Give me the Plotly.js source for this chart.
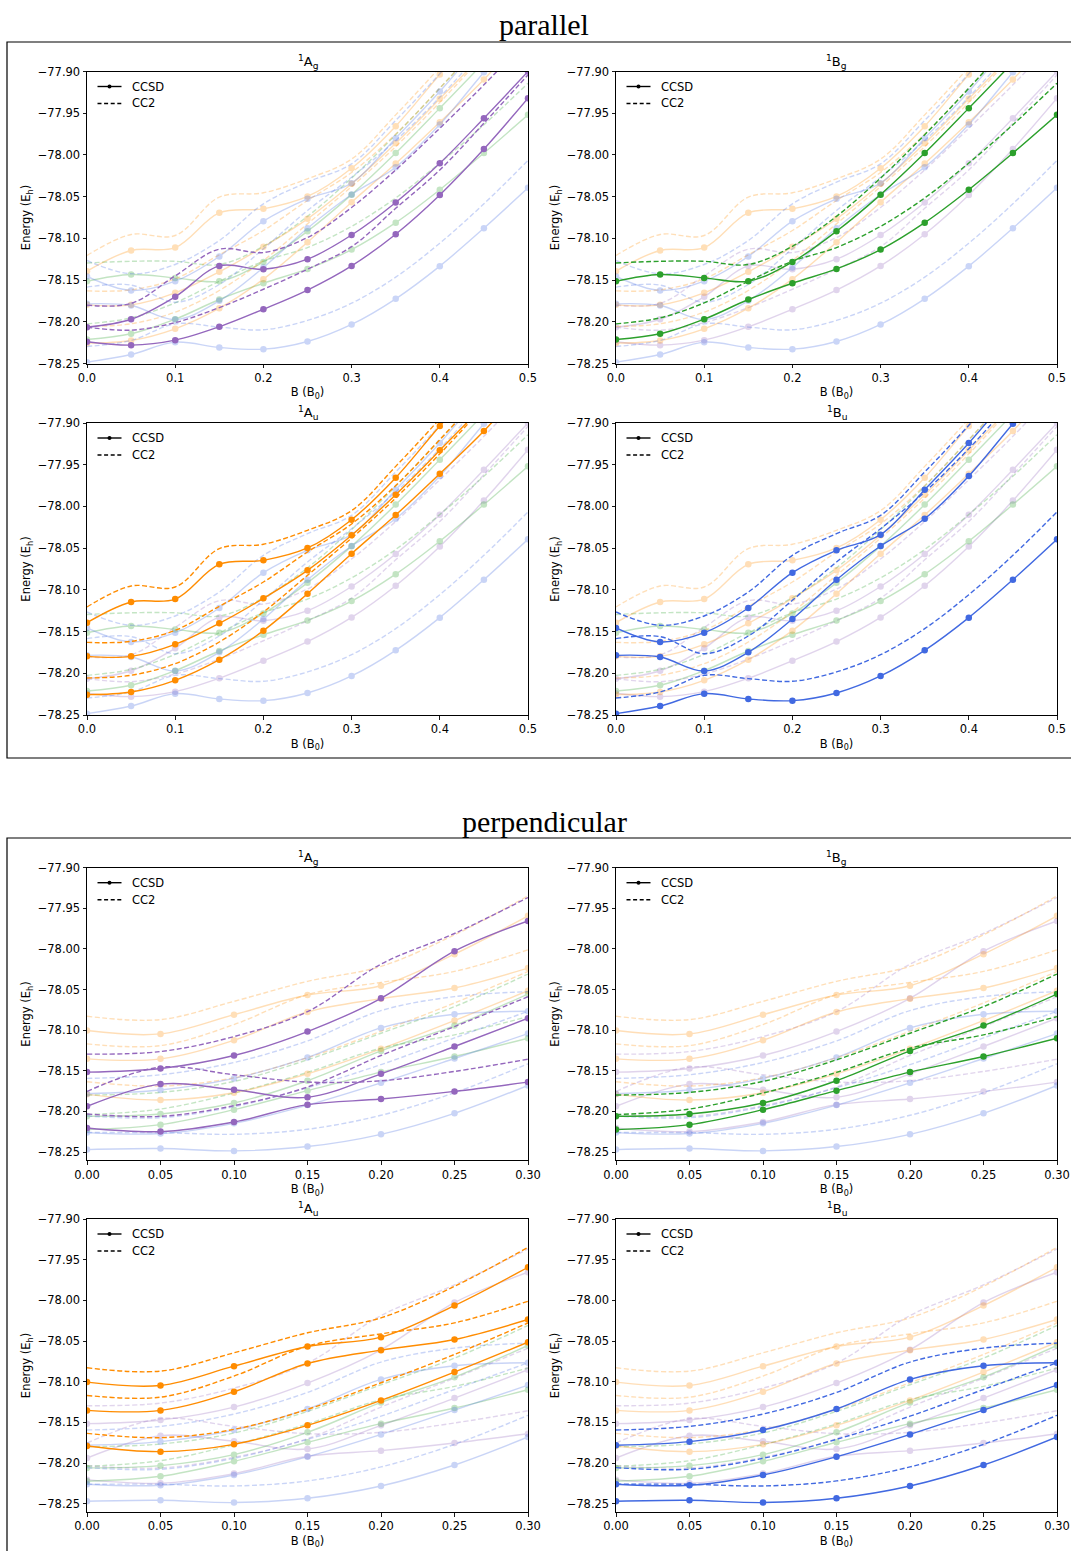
<!DOCTYPE html>
<html>
<head>
<meta charset="utf-8">
<script src="https://cdn.plot.ly/plotly-3.0.1.min.js"></script>
<style>html,body{margin:0;padding:0;background:#fff;}#chart{width:1071px;height:1551px;}</style>
</head>
<body>
<div id="chart"></div>
<script>
// ---------------- DATA ----------------
const xPar  = [0, 0.05, 0.10, 0.15, 0.20, 0.25, 0.30, 0.35, 0.40, 0.45, 0.50];
const xPerp = [0, 0.05, 0.10, 0.15, 0.20, 0.25, 0.30];

const symNames  = ['Ag', 'Bg', 'Au', 'Bu'];
const symLabels = ['<sup>1</sup>A<sub>g</sub>', '<sup>1</sup>B<sub>g</sub>', '<sup>1</sup>A<sub>u</sub>', '<sup>1</sup>B<sub>u</sub>'];
const symColors = ['#9467bd', '#2ca02c', '#ff8c00', '#4169e1'];
const legendNames = ['CCSD', 'CC2'];

// parallel field, CCSD (solid) and CC2 (dashed) states, energies in Eh
const parAgCCSD = [
  [-78.2065, -78.197, -78.170, -78.133, -78.137, -78.125, -78.096, -78.057, -78.010, -77.956, -77.900],
  [-78.224, -78.228, -78.222, -78.206, -78.185, -78.162, -78.133, -78.095, -78.048, -77.993, -77.932]
];
const parAgCC2 = [
  [-78.180, -78.178, -78.145, -78.113, -78.117, -78.099, -78.063, -78.018, -77.968, -77.916, -77.860],
  [-78.2065, -78.210, -78.201, -78.183, -78.161, -78.137, -78.110, -78.064, -78.018, -77.962, -77.904]
];
const parBgCCSD = [
  [-78.1514, -78.1434, -78.1474, -78.1514, -78.1283, -78.0915, -78.0476, -77.9978, -77.9439, -77.889, -77.830],
  [-78.2212, -78.2144, -78.1969, -78.1733, -78.1538, -78.1366, -78.1135, -78.0812, -78.0417, -77.9978, -77.9519]
];
const parBgCC2 = [
  [-78.1295, -78.1275, -78.1275, -78.1314, -78.1095, -78.0736, -78.0277, -77.9758, -77.920, -77.862, -77.800],
  [-78.2025, -78.1953, -78.1773, -78.1514, -78.1275, -78.1110, -78.0856, -78.0516, -78.0097, -77.9638, -77.914]
];
const parAuCCSD = [
  [-78.1393, -78.1145, -78.111, -78.0694, -78.0646, -78.0498, -78.0159, -77.9655, -77.9036, -77.845, -77.785],
  [-78.1797, -78.1797, -78.1653, -78.1401, -78.1101, -78.0766, -78.0346, -77.9859, -77.9328, -77.878, -77.818],
  [-78.2256, -78.2224, -78.2084, -78.1837, -78.1489, -78.1046, -78.0566, -78.0103, -77.9607, -77.9096, -77.850]
];
const parAuCC2 = [
  [-78.1205, -78.0954, -78.0966, -78.0506, -78.0454, -78.0286, -78.005, -77.952, -77.895, -77.835, -77.775],
  [-78.163, -78.1617, -78.1485, -78.1197, -78.0906, -78.0546, -78.021, -77.975, -77.920, -77.862, -77.800],
  [-78.2056, -78.2024, -78.1884, -78.1625, -78.1265, -78.0826, -78.038, -77.990, -77.937, -77.880, -77.820]
];
const parBuCCSD = [
  [-78.2484, -78.2392, -78.2244, -78.2308, -78.2328, -78.2236, -78.2032, -78.1725, -78.1333, -78.0878, -78.0394],
  [-78.1785, -78.1805, -78.1972, -78.1749, -78.1349, -78.0878, -78.0474, -78.0147, -77.9635, -77.9008, -77.840],
  [-78.1457, -78.1625, -78.1513, -78.1217, -78.0794, -78.0526, -78.0338, -77.9799, -77.924, -77.862, -77.800]
];
const parBuCC2 = [
  [-78.2296, -78.2224, -78.2024, -78.2064, -78.2096, -78.1984, -78.1777, -78.1465, -78.1058, -78.0586, -78.0067],
  [-78.1585, -78.156, -78.1765, -78.1553, -78.1125, -78.0666, -78.0267, -77.9827, -77.9308, -77.872, -77.810],
  [-78.1265, -78.1425, -78.1313, -78.1026, -78.0586, -78.0326, -78.0107, -77.9587, -77.9028, -77.845, -77.785]
];

// perpendicular field
const perpAgCCSD = [
  [-78.1516, -78.1471, -78.1312, -78.1017, -78.0608, -78.0027, -77.9655],
  [-78.1938, -78.1664, -78.1733, -78.1827, -78.1537, -78.1201, -78.0853],
  [-78.2204, -78.2249, -78.2130, -78.1917, -78.1848, -78.1754, -78.1639]
];
const perpAgCC2 = [
  [-78.1295, -78.1263, -78.1079, -78.0772, -78.0187, -77.981, -77.9368],
  [-78.1754, -78.1455, -78.1549, -78.1639, -78.1623, -78.1508, -78.1357],
  [-78.2032, -78.2061, -78.193, -78.170, -78.1312, -78.0956, -78.0588]
];
const perpBgCCSD = [
  [-78.206, -78.2032, -78.1897, -78.1623, -78.1255, -78.0944, -78.0555],
  [-78.2224, -78.2163, -78.1979, -78.1745, -78.1516, -78.1324, -78.1099]
];
const perpBgCC2 = [
  [-78.1799, -78.1766, -78.1631, -78.1365, -78.1038, -78.071, -78.0309],
  [-78.204, -78.1971, -78.1774, -78.152, -78.1222, -78.1058, -78.0833]
];
const perpAuCCSD = [
  [-78.1005, -78.1046, -78.0809, -78.0567, -78.0453, -78.0064, -77.9593],
  [-78.1353, -78.1353, -78.1124, -78.0776, -78.0612, -78.0481, -78.0236],
  [-78.179, -78.186, -78.177, -78.1537, -78.123, -78.0882, -78.0514]
];
const perpAuCC2 = [
  [-78.0829, -78.087, -78.0645, -78.0399, -78.0215, -77.9827, -77.9348],
  [-78.1169, -78.119, -78.0931, -78.0563, -78.0412, -78.0277, -78.0011],
  [-78.1635, -78.1688, -78.1586, -78.134, -78.1013, -78.0665, -78.0277]
];
const perpBuCCSD = [
  [-78.1782, -78.1737, -78.1594, -78.1336, -78.0972, -78.0804, -78.0768],
  [-78.2261, -78.2273, -78.2147, -78.1922, -78.1648, -78.1349, -78.1042],
  [-78.247, -78.2457, -78.2486, -78.2433, -78.2282, -78.2024, -78.168]
];
const perpBuCC2 = [
  [-78.1594, -78.1549, -78.1398, -78.1132, -78.0759, -78.0587, -78.0526],
  [-78.2056, -78.2077, -78.1942, -78.1709, -78.1424, -78.1096, -78.0768],
  [-78.2261, -78.2261, -78.2282, -78.222, -78.2048, -78.177, -78.1414]
];

// ---------------- BUILD ----------------
const W = 1071, H = 1551;
const px = v => v / W;
const py = v => 1 - v / H;

const parSets  = [[parAgCCSD, parAgCC2], [parBgCCSD, parBgCC2], [parAuCCSD, parAuCC2], [parBuCCSD, parBuCC2]];
const perpSets = [[perpAgCCSD, perpAgCC2], [perpBgCCSD, perpBgCC2], [perpAuCCSD, perpAuCC2], [perpBuCCSD, perpBuCC2]];

// panel frames in pixels: [left, right], [top, bottom]
const colPx = [[87, 528], [616, 1057]];
const rowPx = [[71.5, 363.5], [423, 715], [867.7, 1160.3], [1219, 1512]];

const traces = [];
const layout = {
  width: W, height: H,
  margin: {l: 0, r: 0, t: 0, b: 0},
  paper_bgcolor: '#fff', plot_bgcolor: '#fff',
  showlegend: false,
  font: {family: 'DejaVu Sans', size: 11.5, color: '#000'},
  annotations: [], shapes: []
};

const FAINT = 0.28;
const DASH = '5px,2.5px';
const TXT = {family: 'DejaVu Sans', size: 11.5, color: '#000'};

function addSet(xs, ccsd, cc2, color, ax, ay, opacity) {
  cc2.forEach(ys => traces.push({
    x: xs, y: ys, xaxis: ax, yaxis: ay, type: 'scatter', mode: 'lines',
    line: {color: color, width: 1.4, dash: DASH, shape: 'spline', smoothing: 1},
    opacity: opacity, hoverinfo: 'skip'
  }));
  ccsd.forEach(ys => traces.push({
    x: xs, y: ys, xaxis: ax, yaxis: ay, type: 'scatter', mode: 'lines+markers',
    line: {color: color, width: 1.4, shape: 'spline', smoothing: 1},
    marker: {color: color, size: 6.5},
    opacity: opacity, hoverinfo: 'skip'
  }));
}

for (let p = 0; p < 8; p++) {
  const isPar = p < 4;
  const sym = p % 4;
  const row = Math.floor(p / 2);
  const col = p % 2;
  const n = p + 1;
  const ax = n === 1 ? 'x' : 'x' + n;
  const ay = n === 1 ? 'y' : 'y' + n;
  const xs = isPar ? xPar : xPerp;
  const sets = isPar ? parSets : perpSets;
  const L = colPx[col][0], R = colPx[col][1], T = rowPx[row][0], B = rowPx[row][1];

  for (let s = 0; s < 4; s++) {
    if (s === sym) continue;
    addSet(xs, sets[s][0], sets[s][1], symColors[s], ax, ay, FAINT);
  }
  addSet(xs, sets[sym][0], sets[sym][1], symColors[sym], ax, ay, 1);

  const axKey = n === 1 ? 'xaxis' : 'xaxis' + n;
  const ayKey = n === 1 ? 'yaxis' : 'yaxis' + n;
  const common = {
    showgrid: false, zeroline: false,
    showline: true, mirror: true, linecolor: '#000', linewidth: 1,
    ticks: 'outside', ticklen: 3.5, tickwidth: 0.9, tickcolor: '#000',
    tickfont: TXT
  };
  layout[axKey] = Object.assign({}, common, {
    domain: [px(L), px(R)], anchor: ay,
    range: isPar ? [0, 0.5] : [0, 0.30],
    tick0: 0, dtick: isPar ? 0.1 : 0.05, tickformat: isPar ? '.1f' : '.2f',
    title: {text: 'B (B<sub>0</sub>)', font: TXT, standoff: 4}
  });
  layout[ayKey] = Object.assign({}, common, {
    domain: [py(B), py(T)], anchor: ax,
    range: isPar ? [-78.25, -77.90] : [-78.2602, -77.90],
    tick0: -77.90, dtick: 0.05, tickformat: '.2f',
    title: {text: 'Energy (E<sub>h</sub>)', font: TXT, standoff: 4}
  });

  // subplot title
  layout.annotations.push({
    xref: 'paper', yref: 'paper', x: px((L + R) / 2), y: py(T),
    xanchor: 'center', yanchor: 'bottom', yshift: -1,
    text: symLabels[sym], showarrow: false,
    font: {family: 'DejaVu Sans', size: 13, color: '#000'}
  });

  // legend (drawn by hand, matplotlib-style)
  const ly1 = T + 15, ly2 = T + 32;
  layout.shapes.push({type: 'line', xref: 'paper', yref: 'paper', x0: px(L + 10.5), x1: px(L + 34.5), y0: py(ly1), y1: py(ly1),
    line: {color: '#000', width: 1.4}});
  layout.shapes.push({type: 'circle', xref: 'paper', yref: 'paper', x0: px(L + 20.5), x1: px(L + 24.5), y0: py(ly1 + 2), y1: py(ly1 - 2),
    line: {color: '#000', width: 0}, fillcolor: '#000'});
  layout.shapes.push({type: 'line', xref: 'paper', yref: 'paper', x0: px(L + 10.5), x1: px(L + 34.5), y0: py(ly2), y1: py(ly2),
    line: {color: '#000', width: 1.4, dash: '4px,2.6px'}});
  layout.annotations.push({xref: 'paper', yref: 'paper', x: px(L + 42.5), y: py(ly1), xanchor: 'left', yanchor: 'middle',
    text: legendNames[0], showarrow: false, font: TXT});
  layout.annotations.push({xref: 'paper', yref: 'paper', x: px(L + 42.5), y: py(ly2), xanchor: 'left', yanchor: 'middle',
    text: legendNames[1], showarrow: false, font: TXT});
}

// group titles and frames
layout.annotations.push({xref: 'paper', yref: 'paper', x: px(544), y: py(24), xanchor: 'center', yanchor: 'middle',
  text: 'parallel', showarrow: false, font: {family: 'Liberation Serif', size: 30, color: '#000'}});
layout.annotations.push({xref: 'paper', yref: 'paper', x: px(544), y: py(821), xanchor: 'center', yanchor: 'middle',
  text: 'perpendicular', showarrow: false, font: {family: 'Liberation Serif', size: 30, color: '#000'}});
layout.shapes.push({type: 'rect', xref: 'paper', yref: 'paper', x0: px(7), x1: px(1080), y0: py(758), y1: py(42),
  line: {color: '#000', width: 1.2}, fillcolor: 'rgba(0,0,0,0)'});
layout.shapes.push({type: 'rect', xref: 'paper', yref: 'paper', x0: px(7), x1: px(1080), y0: py(1565), y1: py(838),
  line: {color: '#000', width: 1.2}, fillcolor: 'rgba(0,0,0,0)'});

Plotly.newPlot('chart', traces, layout, {staticPlot: true, displayModeBar: false});
</script>
</body>
</html>
